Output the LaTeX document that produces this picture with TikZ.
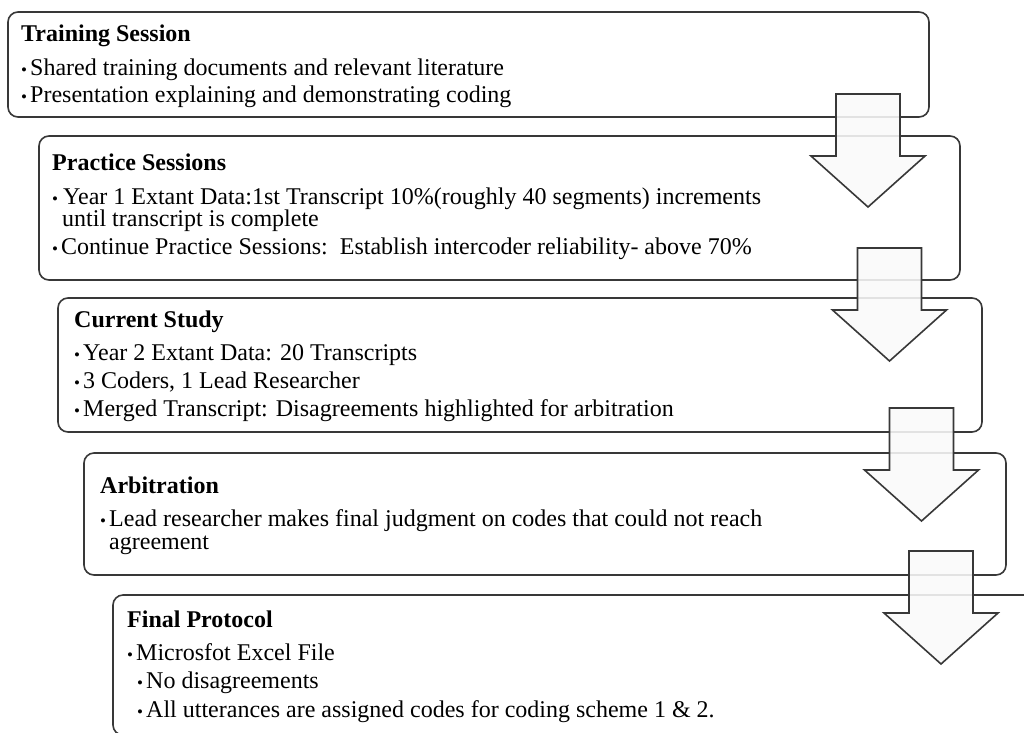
\documentclass[tikz,border=0pt]{standalone}
\usepackage{fontspec}
\setmainfont{Liberation Serif}
\setlength{\lineskiplimit}{-20pt}
\newcommand{\bul}{\makebox[9pt][l]{\raisebox{0.3pt}{\fontsize{17}{17}\selectfont •}}}
\newcommand{\subbul}{\hspace*{10pt}\bul}
\tikzset{
  stage/.style={draw=black!78,line width=1.6pt,rounded corners=10pt,fill=white,
    inner sep=0pt,outer sep=0pt,anchor=north west},
  stagetext/.style={anchor=north west,inner sep=0pt,align=left,
    font=\fontsize{24}{22}\selectfont},
  flowline/.style={draw=black!78,line width=1.6pt,fill=black!2,fill opacity=0.88,line join=miter},
  pics/flowarrow/.style={code={
    \draw[flowline] (-32,0) -- (32,0) -- (32,62) -- (57,62) -- (0,113) -- (-57,62) -- (-32,62) -- cycle;
  }}
}

\begin{document}
\begin{tikzpicture}[x=1pt,y=-1pt]
\clip (0,0) rectangle (1024,732);
\fill[white] (0,0) rectangle (1024,732);

% stages
\node[stage,minimum width=921pt,minimum height=105pt] (training) at (8,12) {};
\node[stage,minimum width=921pt,minimum height=144pt] (practice) at (39,136) {};
\node[stage,minimum width=924pt,minimum height=134pt] (study) at (58,298) {};
\node[stage,minimum width=922pt,minimum height=122pt] (arbitration) at (84,453) {};
\node[stage,minimum width=930pt,minimum height=140pt] (protocol) at (113,595) {};

% texts
\node[stagetext] (trainingtext) at ([shift={(13,13)}]training.north west)
  {\textbf{Training Session}\\[12pt]
   \bul Shared training documents and relevant literature\\[5pt]
   \bul Presentation explaining and demonstrating coding};
\node[stagetext] (practicetext) at ([shift={(13,18)}]practice.north west)
  {\textbf{Practice Sessions}\\[12pt]
   \bul\hspace{2pt}Year 1 Extant Data:1st Transcript 10\%(roughly 40 segments) increments\\
   \hspace*{10pt}until transcript is complete\\[6pt]
   \bul Continue Practice Sessions:\ \ Establish intercoder reliability- above 70\%};
\node[stagetext] (studytext) at ([shift={(16,13)}]study.north west)
  {\textbf{Current Study}\\[11pt]
   \bul Year 2 Extant Data: 20 Transcripts\\[6pt]
   \bul 3 Coders, 1 Lead Researcher\\[6pt]
   \bul Merged Transcript: Disagreements highlighted for arbitration};
\node[stagetext] (arbitrationtext) at ([shift={(16,24)}]arbitration.north west)
  {\textbf{Arbitration}\\[11pt]
   \bul Lead researcher makes final judgment on codes that could not reach\\[1pt]
   \hspace*{9pt}agreement};
\node[stagetext] (protocoltext) at ([shift={(14,16)}]protocol.north west)
  {\textbf{Final Protocol}\\[11pt]
   \bul Microsfot Excel File\\[6pt]
   \subbul No disagreements\\[7pt]
   \subbul All utterances are assigned codes for coding scheme 1 \& 2.};

% arrows between stages
\pic (trainingarrow) at (868,94) {flowarrow};
\pic (practicearrow) at (889.5,248) {flowarrow};
\pic (studyarrow) at (921.5,408) {flowarrow};
\pic (arbitrationarrow) at (941,551) {flowarrow};
\end{tikzpicture}
\end{document}
